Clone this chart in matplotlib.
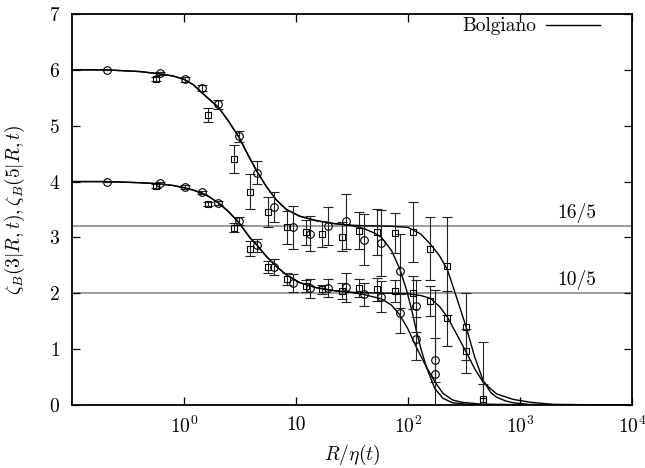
import numpy as np
import matplotlib
matplotlib.use("Agg")
import matplotlib.pyplot as plt
from matplotlib.ticker import FixedLocator, NullLocator

plt.rcParams['font.family'] = 'serif'
plt.rcParams['font.serif'] = ['cmr10', 'DejaVu Serif']
plt.rcParams['mathtext.fontset'] = 'cm'
plt.rcParams['axes.formatter.use_mathtext'] = True

# --- data points (circles and squares: two times) ---
circ_x = [0.205, 0.611, 1.02, 1.44, 2.03, 3.08, 4.49, 6.32, 9.4, 13.4, 19.5,
          28.2, 40.2, 57.8, 84.3, 119, 173]
circ_z3 = [4.00, 3.97, 3.90, 3.81, 3.62, 3.29, 2.86, 2.47, 2.19, 2.09, 2.10,
           2.11, 1.98, 1.94, 1.64, 1.19, 0.56]
circ_z3_err = [0.0, 0.02, 0.03, 0.03, 0.04, 0.07, 0.12, 0.14, 0.16, 0.17, 0.16,
               0.26, 0.20, 0.28, 0.35, 0.38, 1.49]
circ_z5 = [6.00, 5.94, 5.83, 5.68, 5.38, 4.81, 4.16, 3.55, 3.18, 3.07, 3.21,
           3.29, 2.96, 2.90, 2.40, 1.77, 0.81]
circ_z5_err = [0.0, 0.03, 0.04, 0.05, 0.08, 0.10, 0.20, 0.27, 0.39, 0.32, 0.34,
               0.49, 0.46, 0.59, 0.67, 0.46, 0.39]

sq_x = [0.559, 1.65, 2.78, 3.92, 5.62, 8.38, 12.2, 17.2, 26, 36.5, 52.9,
        76.6, 110, 158.6, 225, 330, 468]
sq_z3 = [3.92, 3.60, 3.17, 2.80, 2.47, 2.25, 2.13, 2.07, 2.04, 2.09, 2.07,
         2.04, 2.01, 1.86, 1.55, 0.97, 0.08]
sq_z3_err = [0.03, 0.04, 0.08, 0.13, 0.11, 0.11, 0.10, 0.08, 0.15, 0.16, 0.20,
             0.20, 0.30, 0.27, 0.49, 0.39, 0.30]
sq_z5 = [5.84, 5.19, 4.40, 3.82, 3.45, 3.18, 3.09, 3.06, 3.01, 3.12, 3.10,
         3.08, 3.10, 2.80, 2.49, 1.40, 0.10]
sq_z5_err = [0.04, 0.13, 0.25, 0.31, 0.27, 0.30, 0.22, 0.23, 0.26, 0.33, 0.41,
             0.36, 0.54, 0.56, 0.87, 0.60, 1.02]

# --- Bolgiano curves ---
base_x = [0.1, 0.2, 0.4, 0.6, 0.8, 1.0, 1.2, 1.58, 2.03, 2.5, 3.08, 3.86,
          4.49, 5.44, 6.68, 8.21, 10.8, 15.2, 21.4, 30]
base_z5 = [6.0, 6.0, 5.97, 5.93, 5.89, 5.83, 5.74, 5.52, 5.33, 5.08, 4.80, 4.42,
           4.18, 3.91, 3.67, 3.50, 3.38, 3.30, 3.25, 3.22]
base_z3 = [4.0, 4.0, 3.98, 3.96, 3.93, 3.89, 3.85, 3.76, 3.62, 3.46, 3.27, 3.00,
           2.86, 2.66, 2.48, 2.33, 2.19, 2.10, 2.05, 2.02]

tail_c5_x = [40, 50, 58, 71, 84, 97, 108, 119, 132, 146, 173, 205, 250, 350, 1e4]
tail_c5_y = [3.16, 3.08, 3.00, 2.77, 2.45, 2.06, 1.70, 1.32, 0.97, 0.68, 0.30,
             0.12, 0.04, 0.01, 0.0]
tail_c3_x = [40, 58, 71, 84, 100, 119, 146, 173, 205, 250, 300, 450, 1000, 1e4]
tail_c3_y = [1.98, 1.90, 1.79, 1.62, 1.36, 1.03, 0.68, 0.42, 0.21, 0.09, 0.05,
             0.015, 0.002, 0.0]
tail_s5_x = [40, 70, 100, 130, 160, 190, 225, 270, 330, 394, 468, 550, 617,
             750, 870, 1200, 1e4]
tail_s5_y = [3.21, 3.20, 3.18, 3.06, 2.87, 2.68, 2.42, 1.94, 1.40, 0.86, 0.44,
             0.22, 0.14, 0.07, 0.04, 0.01, 0.0]
tail_s3_x = [40, 70, 100, 130, 158.6, 192, 225, 270, 330, 394, 468, 617, 870,
             1230, 2000, 1e4]
tail_s3_y = [2.01, 2.0, 1.99, 1.96, 1.91, 1.76, 1.57, 1.28, 0.95, 0.65, 0.41,
             0.20, 0.10, 0.05, 0.01, 0.0]

levels = [16 / 5, 10 / 5]
level_labels = ['16/5', '10/5']

xticks = [1, 10, 100, 1000, 10000]
xtick_labels = [r'$10^{0}$', '10', r'$10^{2}$', r'$10^{3}$', r'$10^{4}$']

fig = plt.figure(figsize=(6.45, 4.68), dpi=100)
ax = fig.add_axes([72 / 645, 63 / 468, 560 / 645, 391 / 468])

for lv, lab in zip(levels, level_labels):
    ax.axhline(lv, color='#8a8a8a', lw=1.2, zorder=1)
    ax.text(3200, lv + 0.05, lab, ha='center', va='bottom', fontsize=14)

curves = [
    (base_x + tail_c5_x, base_z5 + tail_c5_y),
    (base_x + tail_s5_x, base_z5 + tail_s5_y),
    (base_x + tail_c3_x, base_z3 + tail_c3_y),
    (base_x + tail_s3_x, base_z3 + tail_s3_y),
]
for i, (cx, cy) in enumerate(curves):
    ax.plot(cx, cy, color='black', lw=1.0, zorder=2,
            label='Bolgiano' if i == 0 else None)

ebkw = dict(ls='none', color='#222222', elinewidth=0.8, capsize=3.5,
            capthick=0.8, mfc='none', mec='black', mew=0.8, zorder=3)
ax.errorbar(circ_x, circ_z3, yerr=circ_z3_err, marker='o', ms=5.5, **ebkw)
ax.errorbar(circ_x, circ_z5, yerr=circ_z5_err, marker='o', ms=5.5, **ebkw)
ax.errorbar(sq_x, sq_z3, yerr=sq_z3_err, marker='s', ms=5, **ebkw)
ax.errorbar(sq_x, sq_z5, yerr=sq_z5_err, marker='s', ms=5, **ebkw)

ax.set_xscale('log')
ax.set_xlim(0.1, 1e4)
ax.set_ylim(0, 7)
ax.xaxis.set_major_locator(FixedLocator(xticks))
ax.set_xticklabels(xtick_labels)
ax.xaxis.set_minor_locator(NullLocator())
ax.set_yticks(range(0, 8))
ax.tick_params(which='both', direction='in', length=6, width=0.9,
               top=True, right=True, labelsize=14)
ax.tick_params(axis='x', pad=8)
ax.tick_params(axis='y', pad=8.5)
for sp in ax.spines.values():
    sp.set_linewidth(1.3)

ax.set_xlabel(r'$R/\eta(t)$', fontsize=14, labelpad=4)
ax.set_ylabel(r'$\zeta_B(3|R,t),\zeta_B(5|R,t)$', fontsize=14)
ax.yaxis.set_label_coords(-0.080, 0.5)

ax.legend(loc='upper right', bbox_to_anchor=(0.968, 1.026), frameon=False,
          markerfirst=False, fontsize=14, handlelength=2.8, handletextpad=0.5,
          borderaxespad=0.3)

fig.savefig('out.png', dpi=100)
